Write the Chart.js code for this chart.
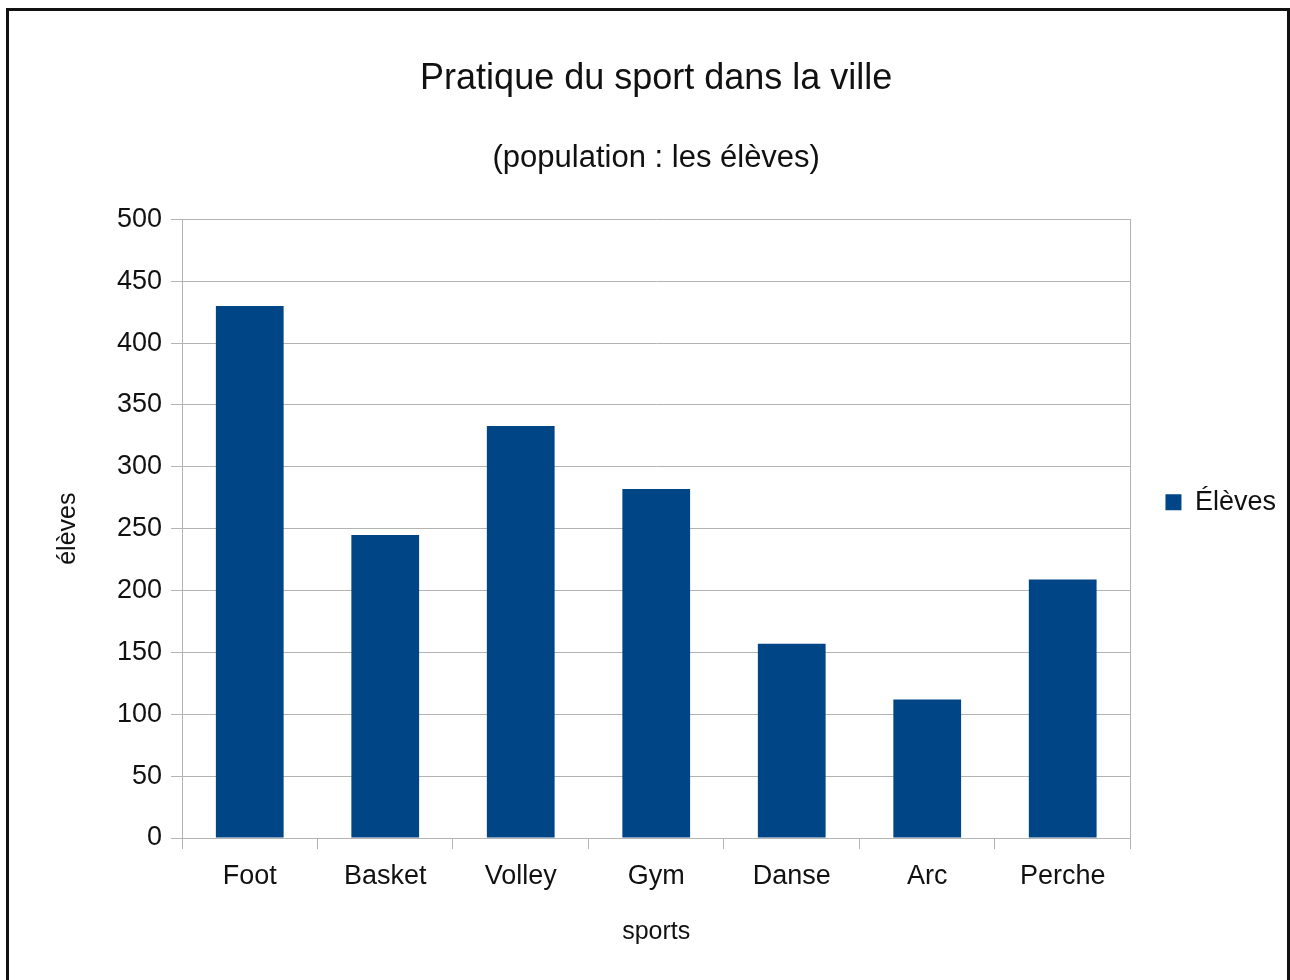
<!DOCTYPE html>
<html>
<head>
<meta charset="utf-8">
<script src="https://cdn.jsdelivr.net/npm/chart.js@4"></script>
<style>
    html, body { margin: 0; padding: 0; background: #fff; }
    #wrap { position: relative; width: 1290px; height: 980px; overflow: hidden; }
    #chart { position: absolute; left: 0; top: 0; }
    #frame {
        position: absolute; left: 6px; top: 8px; width: 1284px; height: 972px;
        box-sizing: border-box; border: 3px solid #111; border-bottom: none;
        pointer-events: none;
    }
</style>
</head>
<body>
<div id="wrap">
    <canvas id="chart" width="1290" height="980"></canvas>
    <div id="frame"></div>
</div>
<script>
// Data
const sports = ['Foot', 'Basket', 'Volley', 'Gym', 'Danse', 'Arc', 'Perche'];
const eleves = [430, 245, 333, 282, 157, 112, 209];
const seriesName = 'Élèves';
const yMin = 0;
const yMax = 500;
const yStep = 50;

const FONT = '"Liberation Sans", Arial, sans-serif';
const BAR_COLOR = '#004586';
const GRID_COLOR = '#b3b3b3';

Chart.defaults.font.family = FONT;
Chart.defaults.color = '#111';

document.addEventListener('DOMContentLoaded', function() {
    const ctx = document.getElementById('chart').getContext('2d');
    new Chart(ctx, {
        type: 'bar',
        data: {
            labels: sports,
            datasets: [{
                label: seriesName,
                data: eleves,
                backgroundColor: BAR_COLOR,
                borderWidth: 0,
                barPercentage: 0.5,
                categoryPercentage: 1.0
            }]
        },
        options: {
            responsive: false,
            animation: false,
            devicePixelRatio: 1,
            layout: { padding: { left: 0, right: 4, top: 0, bottom: 0 } },
            plugins: {
                title: {
                    display: true,
                    text: 'Pratique du sport dans la ville',
                    fullSize: false,
                    color: '#111',
                    font: { size: 36, weight: 'normal' },
                    padding: { top: 57, bottom: 0 }
                },
                subtitle: {
                    display: true,
                    text: '(population : les élèves)',
                    fullSize: false,
                    color: '#111',
                    font: { size: 31, weight: 'normal' },
                    padding: { top: 40, bottom: 42 }
                },
                legend: {
                    position: 'right',
                    align: 'center',
                    title: { display: true, text: '', padding: { top: 10, bottom: 0 } },
                    labels: {
                        boxWidth: 16,
                        boxHeight: 16,
                        font: { size: 27 },
                        color: '#111'
                    }
                },
                tooltip: { enabled: false }
            },
            scales: {
                x: {
                    grid: {
                        display: true,
                        drawOnChartArea: false,
                        drawTicks: true,
                        tickLength: 11,
                        color: GRID_COLOR
                    },
                    border: { color: GRID_COLOR },
                    ticks: { font: { size: 27 }, padding: 11, color: '#111' },
                    title: {
                        display: true,
                        text: 'sports',
                        font: { size: 25 },
                        color: '#111',
                        padding: { top: 33, bottom: 33 }
                    },
                    afterFit: function(scale) { scale.height = 142; }
                },
                y: {
                    min: yMin,
                    max: yMax,
                    grid: { color: GRID_COLOR, tickLength: 11 },
                    border: { color: GRID_COLOR },
                    ticks: { stepSize: yStep, font: { size: 27 }, padding: 9, color: '#111' },
                    title: {
                        display: true,
                        text: 'élèves',
                        font: { size: 25 },
                        color: '#111',
                        padding: { top: 53, bottom: 0 }
                    },
                    afterFit: function(scale) { scale.width = 182; }
                },
                y2: {
                    position: 'right',
                    display: true,
                    grid: { drawOnChartArea: false, drawTicks: false },
                    border: { color: GRID_COLOR },
                    ticks: { display: false },
                    afterFit: function(scale) { scale.width = 25; }
                }
            }
        }
    });
});
</script>
</body>
</html>
